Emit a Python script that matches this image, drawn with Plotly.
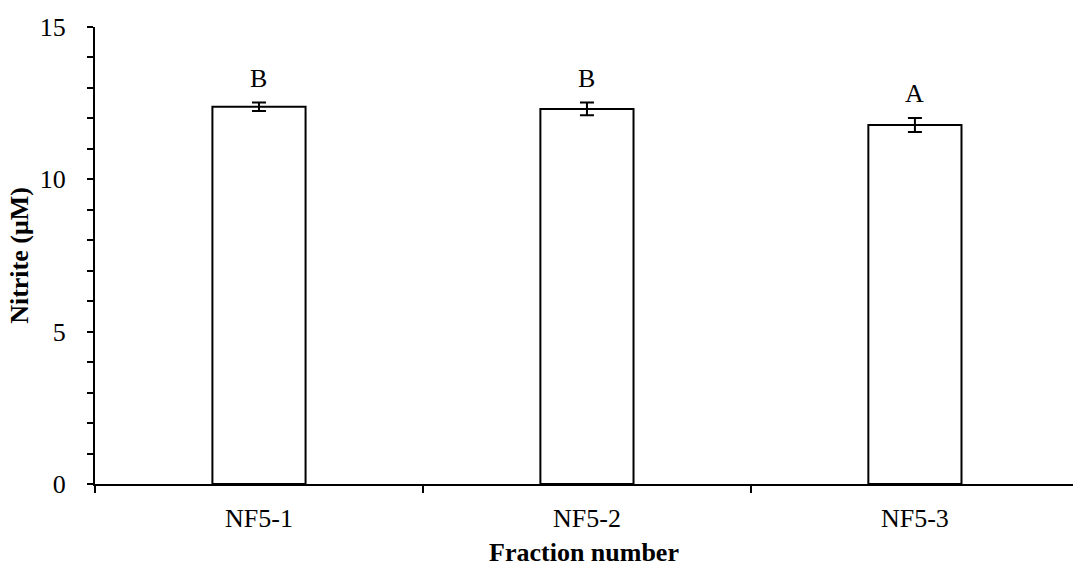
import plotly.graph_objects as go

# Nitrite production per fraction (mean ± SD) with significance letters
fractions = ["NF5-1", "NF5-2", "NF5-3"]
nitrite = [12.38, 12.31, 11.78]
nitrite_sd = [0.14, 0.21, 0.23]
group_letters = ["B", "B", "A"]

SERIF = "Liberation Serif, Times New Roman, serif"
FS = 26

fig = go.Figure()
fig.add_trace(go.Bar(
    x=fractions,
    y=nitrite,
    width=0.284,
    marker=dict(color="white", line=dict(color="black", width=2)),
    error_y=dict(type="data", array=nitrite_sd, visible=True,
                 color="black", thickness=2, width=7),
    showlegend=False,
))

for name, val, sd, letter in zip(fractions, nitrite, nitrite_sd, group_letters):
    fig.add_annotation(
        x=name, y=val + sd, text=letter, showarrow=False,
        yanchor="bottom", yshift=8,
        font=dict(family=SERIF, size=FS, color="black"),
    )

fig.update_layout(
    width=1073, height=567,
    margin=dict(l=95, r=0, t=27, b=83),
    paper_bgcolor="white", plot_bgcolor="white",
    font=dict(family=SERIF, size=FS, color="black"),
    xaxis=dict(
        type="category",
        range=[-0.5, 2.482],
        showline=True, linecolor="black", linewidth=2,
        ticks="outside", tickson="boundaries", ticklen=7,
        tickwidth=2, tickcolor="black",
        ticklabelstandoff=10,
        showgrid=False, zeroline=False,
        tickfont=dict(family=SERIF, size=FS),
        title=dict(text="<b>Fraction number</b>", standoff=14,
                   font=dict(family=SERIF, size=FS)),
    ),
    yaxis=dict(
        range=[0, 15],
        tickvals=[0, 5, 10, 15],
        showline=True, linecolor="black", linewidth=2,
        ticks="outside", ticklen=6, tickwidth=2, tickcolor="black",
        ticklabelstandoff=16,
        minor=dict(dtick=1, tick0=0, ticks="outside", ticklen=6,
                   tickwidth=2, tickcolor="black", showgrid=False),
        showgrid=False, zeroline=False,
        tickfont=dict(family=SERIF, size=FS),
        title=dict(text="<b>Nitrite (μM)</b>", standoff=4,
                   font=dict(family=SERIF, size=FS)),
    ),
)

fig.write_html("out.html")
